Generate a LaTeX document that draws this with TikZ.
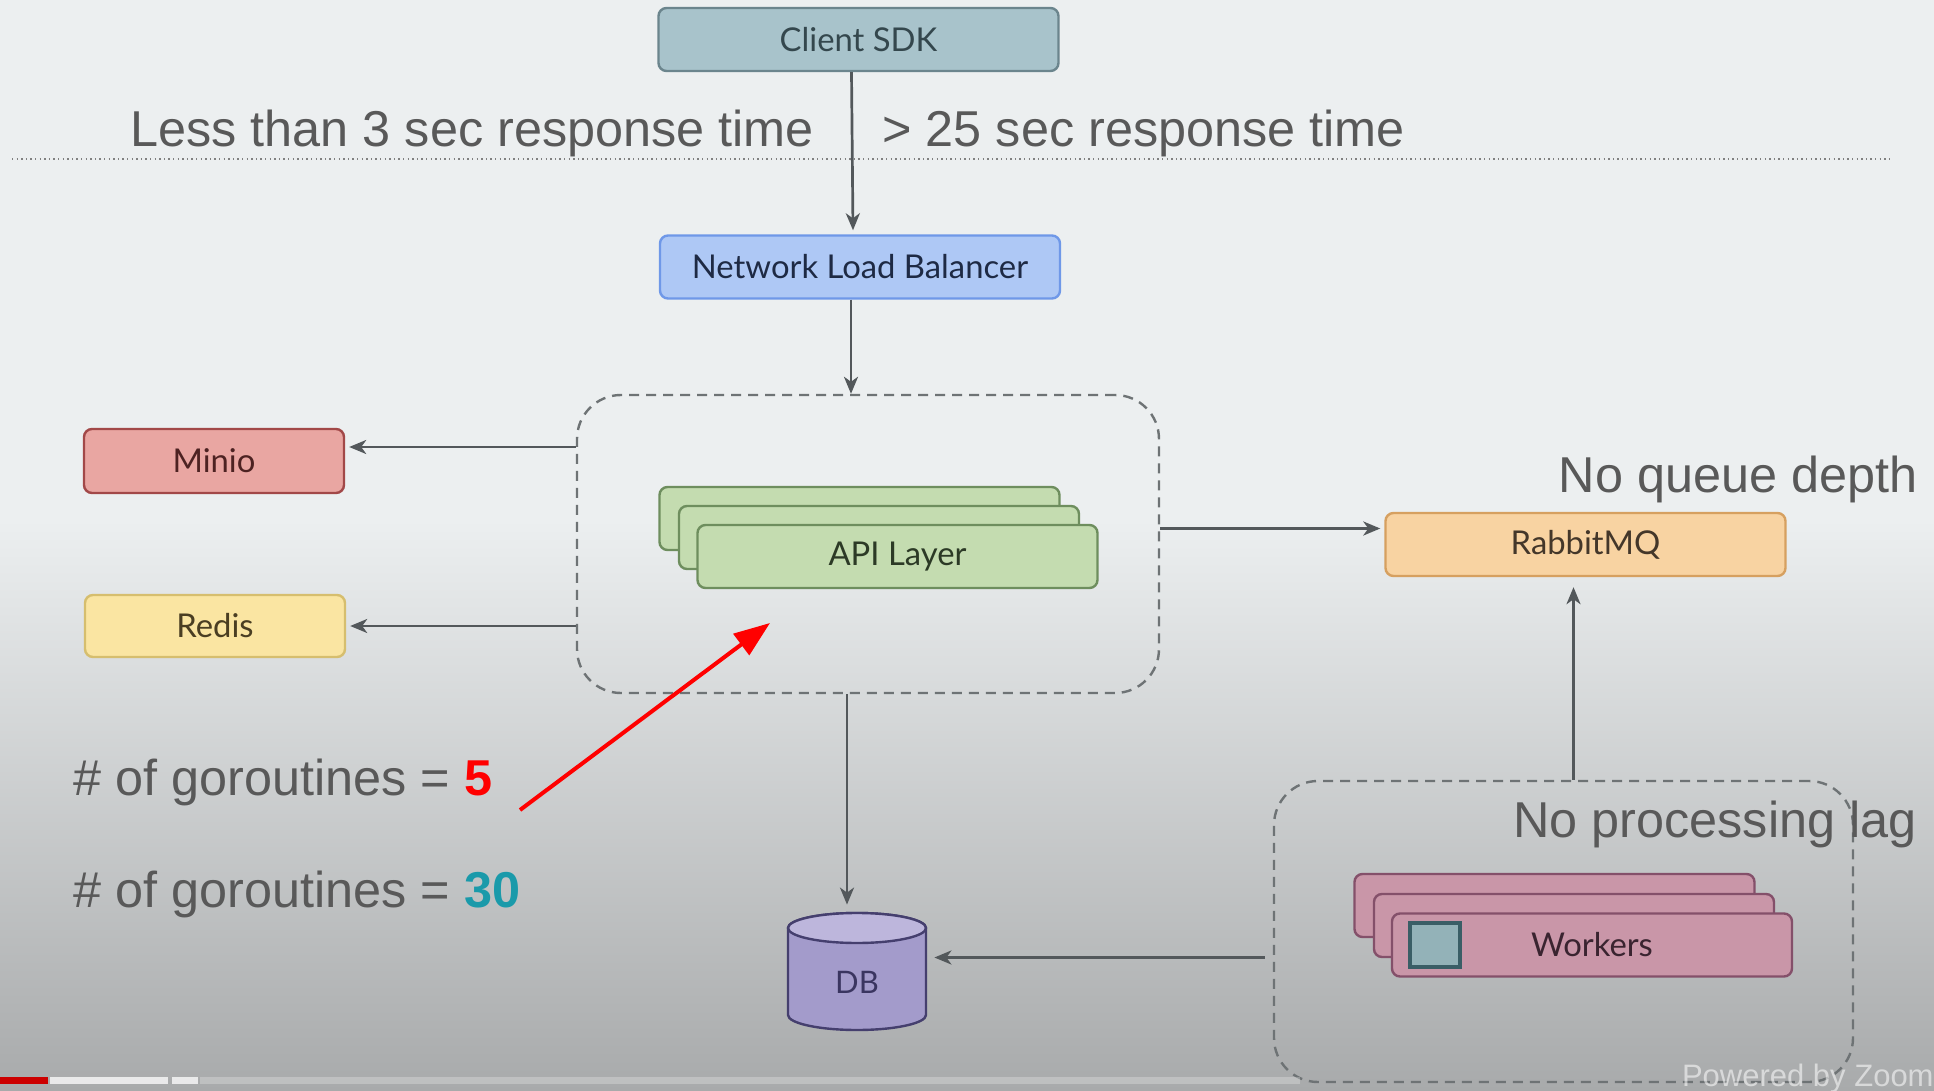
\documentclass[tikz,border=0pt]{standalone}
\usepackage{fontspec}
\setmainfont{Liberation Sans}
\newfontfamily\boxfont{Lato}
\usetikzlibrary{arrows.meta,calc}
\definecolor{bgtop}{HTML}{ECEFF0}
\definecolor{bgbot}{HTML}{A8AAAB}
\definecolor{arrowc}{HTML}{53585B}
\definecolor{dashc}{HTML}{6E7375}
\definecolor{labc}{HTML}{595959}
\definecolor{clientf}{HTML}{A8C3CB}\definecolor{clientd}{HTML}{6B858D}\definecolor{clientt}{HTML}{34474D}
\definecolor{nlbf}{HTML}{AEC8F5}\definecolor{nlbd}{HTML}{6F98E8}\definecolor{nlbt}{HTML}{1E2A44}
\definecolor{miniof}{HTML}{E9A6A2}\definecolor{miniod}{HTML}{A24848}\definecolor{miniot}{HTML}{4D2222}
\definecolor{redisf}{HTML}{FAE5A2}\definecolor{redisd}{HTML}{D6BE6E}\definecolor{redist}{HTML}{4A3E22}
\definecolor{apif}{HTML}{C4DCB0}\definecolor{apid}{HTML}{6E8E5E}\definecolor{apit}{HTML}{2C3A26}
\definecolor{rabf}{HTML}{F8D3A2}\definecolor{rabd}{HTML}{D6A060}\definecolor{rabt}{HTML}{44372A}
\definecolor{workf}{HTML}{C996A8}\definecolor{workd}{HTML}{84506A}\definecolor{workt}{HTML}{3A2430}
\definecolor{iconf}{HTML}{93B2B8}\definecolor{icond}{HTML}{3A5E66}
\definecolor{dbf}{HTML}{A39BCB}\definecolor{dbtop}{HTML}{BDB6DC}\definecolor{dbd}{HTML}{453F6E}\definecolor{dbt}{HTML}{3A3560}
\definecolor{redarrow}{HTML}{FF0000}
\definecolor{tealnum}{HTML}{1A9AAA}
\begin{document}
\begin{tikzpicture}[x=0.5pt,y=-0.5pt,
  sbox/.style={draw, rounded corners=4pt, line width=1.2pt, minimum width=200pt, minimum height=31.5pt, inner sep=0pt, font=\boxfont\fontsize{16.4pt}{19pt}\selectfont},
  arr/.style={draw=arrowc, line width=1.35pt, -{Stealth[length=8.5pt,width=7pt,inset=2.5pt]}},
  dashbox/.style={draw=dashc, line width=1.2pt, dash pattern=on 5pt off 3.5pt, rounded corners=22pt, inner sep=0pt},
  big/.style={font=\fontsize{25.2pt}{30pt}\selectfont, text=labc, inner sep=0pt},
]
\useasboundingbox (0,0) rectangle (1934,1091);
% background
\fill[bgtop] (0,0) rectangle (1934,520);
\shade[top color=bgtop, bottom color=bgbot] (0,519) rectangle (1934,1091);

% separator dotted line
\draw[color=black!50, line width=1.2pt, dash pattern=on 0.7pt off 1.6pt] (12,159) -- (1893,159);

% containers
\node[dashbox, minimum width=291pt, minimum height=149pt] (apibox) at (868,544) {};
\node[dashbox, minimum width=289.5pt, minimum height=150.5pt] (workbox) at (1563.5,931.5) {};

% boxes
\node[sbox, draw=clientd, fill=clientf, text=clientt] (client) at (858.5,39.5) {Client SDK};
\node[sbox, draw=nlbd, fill=nlbf, text=nlbt] (nlb) at (860,267) {Network Load Balancer};
\node[sbox, draw=miniod, fill=miniof, text=miniot, minimum width=130pt, minimum height=32pt] (minio) at (214,461) {Minio};
\node[sbox, draw=redisd, fill=redisf, text=redist, minimum width=130pt, minimum height=31pt] (redis) at (215,626) {Redis};

\node[sbox, draw=apid, fill=apif] (api3) at (859.5,518.5) {};
\node[sbox, draw=apid, fill=apif] (api2) at (879,537.5) {};
\node[sbox, draw=apid, fill=apif, text=apit] (api1) at (897.5,556.5) {API Layer};

\node[sbox, draw=rabd, fill=rabf, text=rabt] (rabbit) at (1585.5,544.5) {RabbitMQ};

\node[sbox, draw=workd, fill=workf] (work3) at (1554.5,905.5) {};
\node[sbox, draw=workd, fill=workf] (work2) at (1574,925.5) {};
\node[sbox, draw=workd, fill=workf, text=workt] (work1) at (1592,945) {Workers};
\node[draw=icond, fill=iconf, line width=2pt, minimum width=25pt, minimum height=22pt, inner sep=0pt] (icon) at (1435,945) {};

% DB cylinder
\filldraw[fill=dbf, draw=dbd, line width=1.2pt]
  (788,928) -- (788,1015) arc[start angle=180, end angle=360, x radius=34.5pt, y radius=7.5pt]
  -- (926,928) arc[start angle=0, end angle=180, x radius=34.5pt, y radius=7.5pt] -- cycle;
\filldraw[fill=dbtop, draw=dbd, line width=1.2pt] (857,928) ellipse[x radius=34.5pt, y radius=7.5pt];
\node[minimum width=69pt, minimum height=58.5pt, inner sep=0pt] (db) at (857,971.5) {};
\node[font=\boxfont\fontsize{15.5pt}{18pt}\selectfont, text=dbt, inner sep=0pt] (dbl) at (857,982) {DB};

% connectors
\draw[arr] ([xshift=-3.5pt]client.south) -- ([xshift=-3.5pt,yshift=2pt]nlb.north);
\draw[arr] ([xshift=-4.5pt]nlb.south) -- ([xshift=-4.5pt]nlb.south |- apibox.north);
\draw[arr, shorten >=2pt] ([yshift=7pt]minio.east -| apibox.west) -- ([yshift=7pt]minio.east);
\draw[arr, shorten >=2pt] (redis.east -| apibox.west) -- (redis.east);
\draw[arr, shorten >=2pt] ([yshift=8pt]rabbit.west -| apibox.east) -- ([yshift=8pt]rabbit.west);
\draw[arr, shorten >=5pt] ([xshift=-6pt]rabbit.south |- workbox.north) -- ([xshift=-6pt]rabbit.south);
\draw[arr, shorten >=4pt] ([xshift=-4pt,yshift=7pt]db.east -| workbox.west) -- ([yshift=7pt]db.east);
\draw[arr, shorten >=4pt] ([xshift=-5pt]apibox.south -| db.north) -- ([xshift=-5pt]db.north);

% red arrow
\coordinate (rs) at (520,810);
\coordinate (re) at (770,623);
\draw[redarrow, line width=2pt, -{Triangle[length=18pt,width=13pt]}] (rs) -- (re);

% labels
\node[big, anchor=base west] (lt3) at (130,147) {Less than 3 sec response time};
\node[big, anchor=base west] (gt25) at (882,147) {> 25 sec response time};
\node[big, anchor=base east] (nqd) at (1918,492) {No queue depth};
\node[big, anchor=base east] (npl) at (1917,837) {No processing lag};
\node[big, anchor=base west] (g5) at (73,795) {\# of goroutines = \textcolor{redarrow}{\textbf{5}}};
\node[big, anchor=base west] (g30) at (73,907) {\# of goroutines = \textcolor{tealnum}{\textbf{30}}};

% video overlay
\fill[white, opacity=0.25] (200,1077) rectangle (1300,1084);
\fill[red!80!black] (0,1077) rectangle (48,1084);
\fill[white, opacity=0.75] (50,1077) rectangle (168,1084);
\fill[white, opacity=0.75] (172,1077) rectangle (198,1084);
\node[font=\fontsize{15.5pt}{18pt}\selectfont, text=white, opacity=0.55, anchor=base east, inner sep=0pt] (pbz) at (1934,1086) {Powered by Zoom};
\end{tikzpicture}
\end{document}
